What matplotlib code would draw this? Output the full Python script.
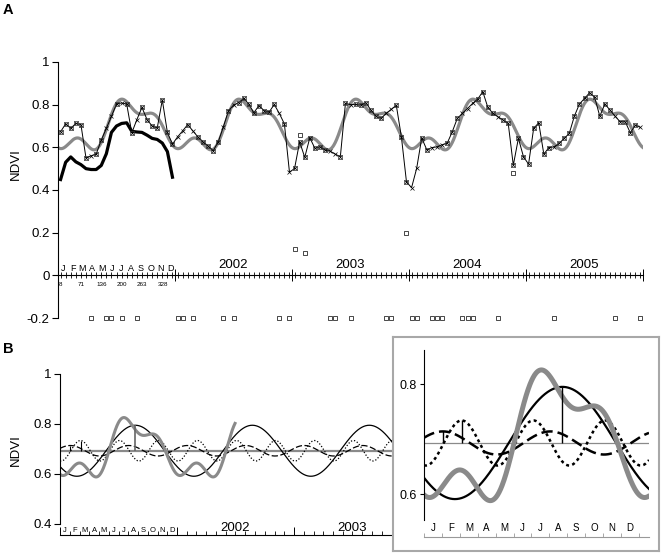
import numpy as np
import matplotlib
matplotlib.use("Agg")
from matplotlib import pyplot as plt
from matplotlib import transforms

plt.rcParams["font.family"] = ["Liberation Sans", "DejaVu Sans"]

W, H = 661, 555

# NDVI time series, 16-day composites (23 per year), 2001-2005
ndvi = [
    0.673, 0.710, 0.689, 0.712, 0.707, 0.550, 0.560, 0.568, 0.634, 0.689, 0.745, 0.803,
    0.808, 0.803, 0.668, 0.730, 0.787, 0.730, 0.700, 0.690, 0.822, 0.670, 0.615,
    0.649, 0.677, 0.707, 0.677, 0.649, 0.626, 0.607, 0.584, 0.626, 0.696, 0.771, 0.798,
    0.809, 0.829, 0.803, 0.762, 0.796, 0.772, 0.765, 0.801, 0.759, 0.710, 0.483, 0.501,
    0.626, 0.553, 0.645, 0.595, 0.602, 0.587, 0.582, 0.568, 0.556, 0.806, 0.800, 0.801,
    0.798, 0.809, 0.775, 0.745, 0.736, 0.759, 0.778, 0.797, 0.649, 0.438, 0.411, 0.501,
    0.644, 0.588, 0.599, 0.602, 0.612, 0.619, 0.673, 0.736, 0.759, 0.782, 0.806, 0.826,
    0.861, 0.787, 0.759, 0.743, 0.728, 0.712, 0.516, 0.642, 0.556, 0.521, 0.689,
    0.715, 0.568, 0.599, 0.602, 0.618, 0.642, 0.665, 0.746, 0.803, 0.829, 0.856, 0.834,
    0.746, 0.803, 0.775, 0.746, 0.720, 0.720, 0.668, 0.704, 0.693,
]
# second (thick black) series, 2001 only
ndvi_2001_b = [
    0.449, 0.530, 0.555, 0.532, 0.519, 0.500, 0.496, 0.496, 0.515, 0.570, 0.670, 0.700,
    0.712, 0.715, 0.675, 0.672, 0.670, 0.657, 0.642, 0.637, 0.620, 0.580, 0.460,
]
# composites flagged as unreliable (plotted at -0.2)
flagged_idx = [6, 9, 10, 12, 15, 23, 24, 26, 32, 34, 43, 45, 53, 54, 57, 64, 65, 69,
               70, 73, 74, 75, 79, 80, 81, 86, 97, 109, 114]
# raw observations that were rejected
raw_idx = [46, 47, 48, 68, 89]
raw_val = [0.125, 0.657, 0.107, 0.200, 0.480]

# harmonic model: mean + 3 harmonics (amplitude, day of first peak)
ndvi_mean = 0.693
harm_amp = [0.102, 0.021, 0.041]
harm_peak = [235, 32, 64]

months = ["J", "F", "M", "A", "M", "J", "J", "A", "S", "O", "N", "D"]
year_names = ["2002", "2003", "2004", "2005"]
year_names_b = ["2002", "2003"]   # the rest of panel B is under the inset
doy_labels = [8, 71, 136, 200, 263, 328]

GRAY = "#8a8a8a"
n_years = 5
comp_day = 8 + np.arange(len(ndvi)) * 365 / 23
year_bounds = np.arange(1, n_years + 1) * 365
month_bounds = np.arange(0, 12 * n_years + 1) * 365 / 12
month_mid = (np.arange(12) + 0.5) * 365 / 12


def harmonic(k, t):
    return harm_amp[k] * np.cos(2 * np.pi * (k + 1) * (t - harm_peak[k]) / 365)


def model(t):
    return ndvi_mean + sum(harmonic(k, t) for k in range(3))


def rect(l, t, r, b):
    return [l / W, 1 - b / H, (r - l) / W, (b - t) / H]


fig = plt.figure(figsize=(W / 100, H / 100), dpi=100)

# ---------------- panel A ----------------
ax = fig.add_axes(rect(58, 62, 643, 318))
ax.set_xlim(0, 365 * n_years)
ax.set_ylim(-0.2, 1.0)
for s in ["top", "right"]:
    ax.spines[s].set_visible(False)
ax.spines["bottom"].set_position(("data", 0))
ax.spines["left"].set_linewidth(0.8)
ax.spines["bottom"].set_linewidth(0.8)

t = np.linspace(0, 365 * n_years, 3000)
ax.plot(t, model(t), color=GRAY, lw=2.3, zorder=2)
ax.plot(comp_day[:23], ndvi_2001_b, color="black", lw=2.3, zorder=3)
ax.plot(comp_day, ndvi, color="black", lw=0.7, marker="x", ms=2.3, mew=0.5, zorder=4)
ok = [i for i in range(len(ndvi)) if i not in flagged_idx]
ax.plot(comp_day[ok], np.array(ndvi)[ok], ls="none", marker="s", ms=2.2, mfc="none",
        mec="#333333", mew=0.5, zorder=4)
ax.plot(comp_day[raw_idx], raw_val, ls="none", marker="s", ms=2.6, mfc="white",
        mec="black", mew=0.5, zorder=4)
ax.plot(comp_day[flagged_idx], [-0.2] * len(flagged_idx), ls="none", marker="s", ms=2.6,
        mfc="white", mec="black", mew=0.5, clip_on=False, zorder=4)

ax.set_yticks([-0.2, 0, 0.2, 0.4, 0.6, 0.8, 1])
ax.set_yticklabels(["-0.2", "0", "0.2", "0.4", "0.6", "0.8", "1"], fontsize=9.5)
ax.tick_params(axis="y", direction="out", length=4, width=0.8, pad=2)
ax.set_xticks(year_bounds)
ax.set_xticks(comp_day, minor=True)
ax.set_xticklabels([])
ax.tick_params(axis="x", which="major", direction="inout", length=8, width=0.7)
ax.tick_params(axis="x", which="minor", direction="inout", length=4, width=0.6)

for m, d in zip(months, month_mid):
    ax.text(d, 0.032, m, fontsize=6.5, ha="center", va="center")
for d in doy_labels:
    ax.text(d, -0.045, str(d), fontsize=4.5, ha="center", va="center")
for i, name in enumerate(year_names):
    ax.text(365 * (i + 1.5), 0.047, name, fontsize=9.5, ha="center", va="center")

fig.text(16 / W, 1 - 164 / H, "NDVI", rotation=90, fontsize=9.5, ha="center", va="center")
fig.text(3 / W, 1 - 10 / H, "A", fontsize=10.5, fontweight="bold", va="center")

# ---------------- panel B ----------------
bx = fig.add_axes(rect(60, 374, 645, 524))
bx.set_xlim(0, 365 * n_years)
bx.set_ylim(0.4, 1.0)
for s in ["top", "right"]:
    bx.spines[s].set_visible(False)
bx.spines["bottom"].set_position(("outward", 8))
bx.spines["left"].set_linewidth(0.8)
bx.spines["bottom"].set_linewidth(0.8)

bx.axhline(ndvi_mean, color=GRAY, lw=1.6, zorder=1)
bx.plot(t, ndvi_mean + harmonic(0, t), color="black", lw=0.9)
bx.plot(t, ndvi_mean + harmonic(1, t), color="black", lw=0.9, ls=(0, (5, 2)))
bx.plot(t, ndvi_mean + harmonic(2, t), color="black", lw=0.9, ls=(0, (1, 1.5)))
tb = np.linspace(0, 546, 800)
bx.plot(tb, model(tb), color=GRAY, lw=2.2)
bx.vlines(harm_peak[0], ndvi_mean, ndvi_mean + harm_amp[0], color="#666666", lw=1.2)
bx.vlines(harm_peak[1:], ndvi_mean, ndvi_mean + np.array(harm_amp[1:]), color="black", lw=0.8)

bx.set_yticks([0.4, 0.6, 0.8, 1])
bx.set_yticklabels(["0.4", "0.6", "0.8", "1"], fontsize=9.5)
bx.tick_params(axis="y", direction="out", length=4, width=0.8, pad=2)
bx.set_xticks(np.concatenate([[0], year_bounds]))
bx.set_xticks(month_bounds, minor=True)
bx.set_xticklabels([])
bx.tick_params(axis="x", which="major", direction="in", length=6, width=0.7)
bx.tick_params(axis="x", which="minor", direction="in", length=3, width=0.6)
trb = transforms.blended_transform_factory(bx.transData, bx.transAxes)
for m, d in zip(months, month_mid):
    bx.text(d, -0.04, m, fontsize=5.5, ha="center", va="center", transform=trb)
for i, name in enumerate(year_names_b):
    bx.text(365 * (i + 1.5), -0.025, name, fontsize=9.5, ha="center", va="center",
            transform=trb)

fig.text(16 / W, 1 - 450 / H, "NDVI", rotation=90, fontsize=9.5, ha="center", va="center")
fig.text(3 / W, 1 - 349 / H, "B", fontsize=10.5, fontweight="bold", va="center")

# ---------------- inset: one year ----------------
box = fig.add_axes(rect(393, 337, 659, 551))
box.set_xticks([])
box.set_yticks([])
box.set_facecolor("white")
for s in box.spines.values():
    s.set_color("#a8a8a8")
    s.set_linewidth(1.5)

ix = fig.add_axes(rect(424, 350, 649, 520))
ix.patch.set_alpha(0)
ix.set_xlim(0, 382)
ix.set_ylim(0.553, 0.862)
for s in ["top", "right"]:
    ix.spines[s].set_visible(False)
ix.spines["bottom"].set_position(("outward", 12))
ix.spines["bottom"].set_color("#999999")
ix.spines["left"].set_linewidth(0.8)

ti = np.linspace(0, 382, 600)
ix.axhline(ndvi_mean, color=GRAY, lw=0.9, zorder=1)
ix.plot(ti, ndvi_mean + harmonic(0, ti), color="black", lw=1.6)
ix.plot(ti, ndvi_mean + harmonic(1, ti), color="black", lw=1.8, ls=(0, (4.5, 2)))
ix.plot(ti, ndvi_mean + harmonic(2, ti), color="black", lw=1.8, ls=(0, (1.2, 1.3)))
ix.plot(ti, model(ti), color=GRAY, lw=3.6, solid_capstyle="round")
ix.vlines(harm_peak, ndvi_mean, ndvi_mean + np.array(harm_amp), color="black", lw=1.0)

ix.set_yticks([0.6, 0.8])
ix.set_yticklabels(["0.6", "0.8"], fontsize=9)
ix.tick_params(axis="y", direction="out", length=3, width=0.8, pad=2)
ix.set_xticks(np.arange(13) * 365 / 12)
ix.set_xticklabels([])
ix.tick_params(axis="x", direction="in", length=3, width=0.6, color="#999999")
tri = transforms.blended_transform_factory(ix.transData, ix.transAxes)
for m, d in zip(months, month_mid):
    ix.text(d, -0.045, m, fontsize=7, ha="center", va="center", transform=tri)

fig.savefig("out.png", dpi=100)
